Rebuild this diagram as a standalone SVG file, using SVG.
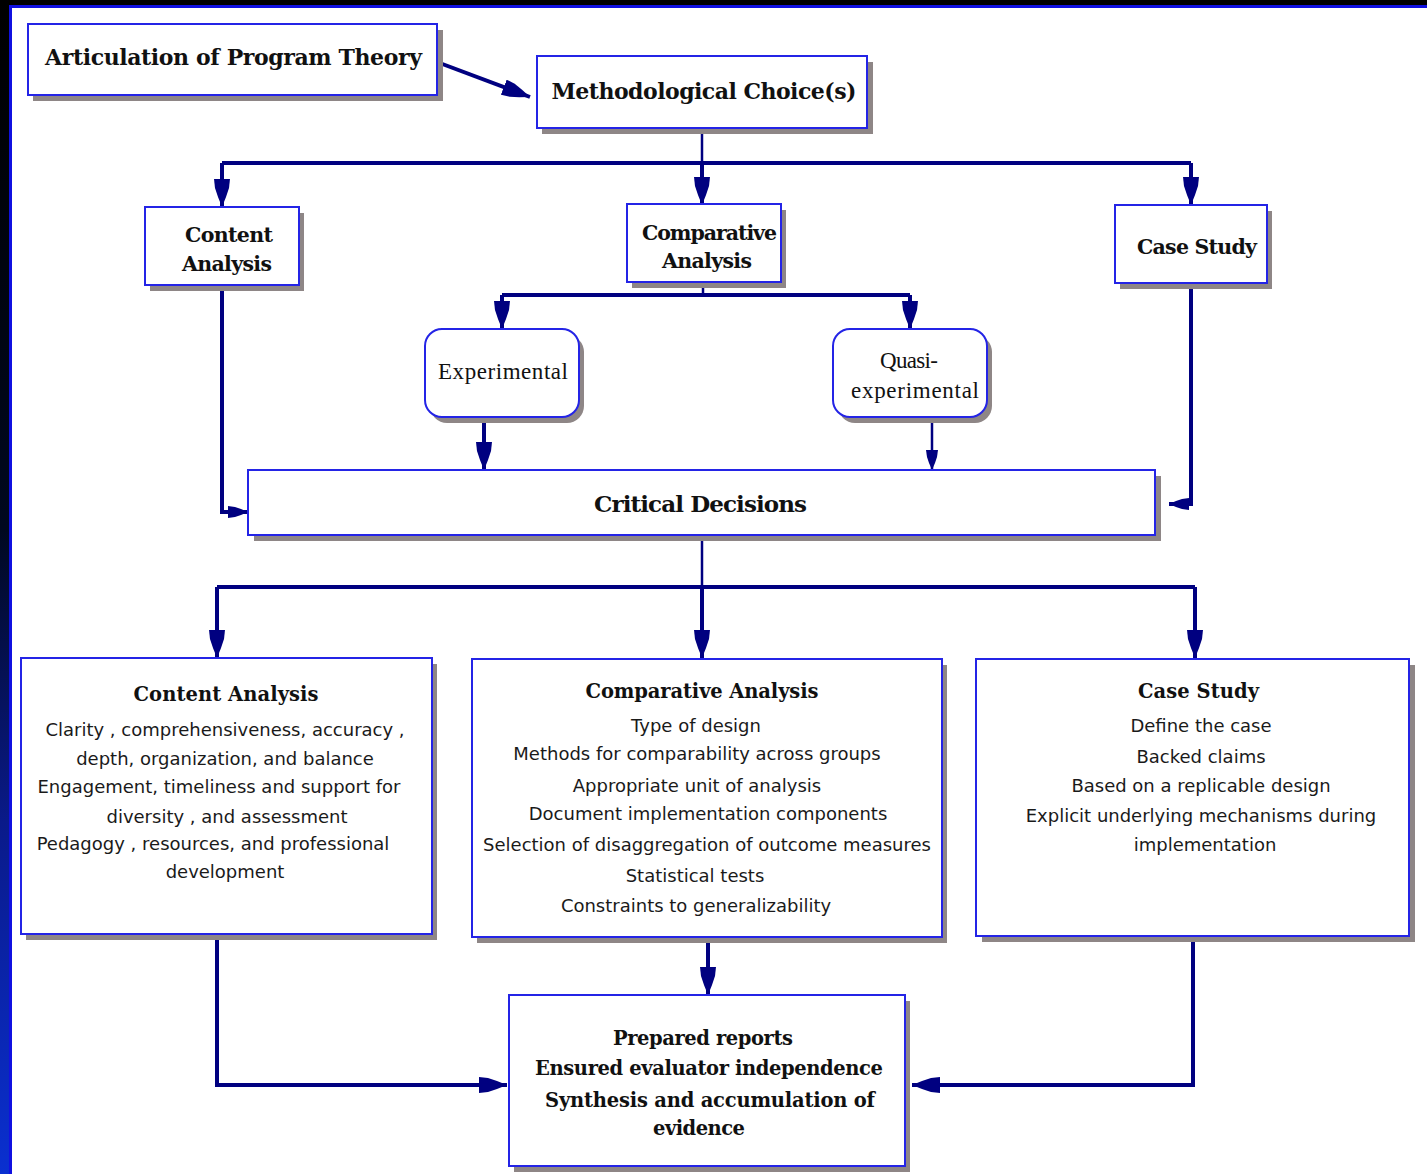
<svg xmlns="http://www.w3.org/2000/svg" width="1427" height="1174" viewBox="0 0 1427 1174">
<style>
.sh{fill:#8e8686;stroke:none}
.bx{fill:#ffffff;stroke:#2424e6;stroke-width:2}
.tt{font-family:"DejaVu Serif","Liberation Serif",serif;font-weight:bold;font-size:22px;fill:#111;text-anchor:middle}
.ts{font-size:20.5px}
.lt{font-family:"DejaVu Serif","Liberation Serif",serif;font-weight:bold;font-size:19.5px;fill:#111;text-anchor:middle}
.sr{font-family:"Liberation Serif","DejaVu Serif",serif;font-size:23px;fill:#111;text-anchor:middle}
.bd{font-family:"DejaVu Sans","Liberation Sans",sans-serif;font-size:18px;fill:#1a1a1a;text-anchor:middle}
.ck{fill:none;stroke:#000080;stroke-width:4;stroke-linejoin:miter}
.cn{fill:none;stroke:#000080;stroke-width:2.5}
</style>
<defs>
<linearGradient id="lg" x1="0" y1="0" x2="0" y2="1">
<stop offset="0" stop-color="#000000"/>
<stop offset="0.45" stop-color="#000820"/>
<stop offset="0.7" stop-color="#0a1a8a"/>
<stop offset="1" stop-color="#0a30d0"/>
</linearGradient>
<marker id="ab" markerUnits="userSpaceOnUse" viewBox="0 -9 28 18" markerWidth="28" markerHeight="18" refX="28" refY="0" orient="auto">
<path d="M0,-8 L9,-7 L18,-4 L28,0 L18,4 L9,7 L0,8 Z" fill="#000080"/>
</marker>
<marker id="as" markerUnits="userSpaceOnUse" viewBox="0 -7 20 14" markerWidth="20" markerHeight="14" refX="20" refY="0" orient="auto">
<path d="M0,-6 L7,-5 L13,-3 L20,0 L13,3 L7,5 L0,6 Z" fill="#000080"/>
</marker>
</defs>

<g id="frame">
<rect x="0" y="0" width="1427" height="1174" fill="#000"/>
<rect x="0" y="0" width="9" height="1174" fill="url(#lg)"/>
<rect x="9" y="5" width="1418" height="1169" fill="#1010e0"/>
<rect x="12" y="8" width="1415" height="1166" fill="#ffffff"/>
</g>

<g id="connectors">
<path class="ck" d="M437,62 L530,97" marker-end="url(#ab)"/>
<path class="cn" d="M702,128 L702,163"/>
<path class="ck" d="M222,163 L1191,163"/>
<path class="ck" d="M222,163 L222,207" marker-end="url(#ab)"/>
<path class="ck" d="M702,163 L702,205" marker-end="url(#ab)"/>
<path class="ck" d="M1191,163 L1191,205" marker-end="url(#ab)"/>
<path class="cn" d="M703,283 L703,295"/>
<path class="ck" d="M502,295 L910,295"/>
<path class="ck" d="M502,295 L502,329" marker-end="url(#ab)"/>
<path class="ck" d="M910,295 L910,329" marker-end="url(#ab)"/>
<path class="ck" d="M484,418 L484,470" marker-end="url(#ab)"/>
<path class="cn" d="M932,418 L932,470" marker-end="url(#as)"/>
<path class="ck" d="M222,286 L222,512 L248,512" marker-end="url(#as)"/>
<path class="ck" d="M1191,284 L1191,504 L1169,504" marker-end="url(#as)"/>
<path class="cn" d="M702,536 L702,587"/>
<path class="ck" d="M217,587 L1195,587"/>
<path class="ck" d="M217,587 L217,658" marker-end="url(#ab)"/>
<path class="ck" d="M702,587 L702,658" marker-end="url(#ab)"/>
<path class="ck" d="M1195,587 L1195,658" marker-end="url(#ab)"/>
<path class="ck" d="M217,935 L217,1085 L507,1085" marker-end="url(#ab)"/>
<path class="ck" d="M708,943 L708,995" marker-end="url(#ab)"/>
<path class="ck" d="M1193,942 L1193,1085 L912,1085" marker-end="url(#ab)"/>
</g>

<g id="n-articulation">
<rect class="sh" x="33" y="30" width="410" height="71"/>
<rect class="bx" x="28" y="24" width="409" height="71"/>
<text class="tt" x="233.5" y="65" textLength="377">Articulation of Program Theory</text>
</g>

<g id="n-methodological">
<rect class="sh" x="542" y="62" width="331" height="72"/>
<rect class="bx" x="537" y="56" width="330" height="72"/>
<text class="tt" x="704" y="99" textLength="305">Methodological Choice(s)</text>
</g>

<g id="n-content-top">
<rect class="sh" x="150" y="213" width="154" height="78"/>
<rect class="bx" x="145" y="207" width="154" height="78"/>
<text class="tt ts" x="229" y="242" textLength="88">Content</text>
<text class="tt ts" x="227" y="271" textLength="90">Analysis</text>
</g>

<g id="n-comparative-top">
<rect class="sh" x="632" y="210" width="154" height="78"/>
<rect class="bx" x="627" y="204" width="154" height="78"/>
<text class="tt ts" x="709.5" y="240" textLength="135">Comparative</text>
<text class="tt ts" x="707" y="268" textLength="90">Analysis</text>
</g>

<g id="n-casestudy-top">
<rect class="sh" x="1120" y="211" width="152" height="78"/>
<rect class="bx" x="1115" y="205" width="152" height="78"/>
<text class="tt ts" x="1197" y="254" textLength="120">Case Study</text>
</g>

<g id="n-experimental">
<rect class="sh" x="430" y="335" width="154" height="88" rx="17"/>
<rect class="bx" x="425" y="329" width="154" height="88" rx="17"/>
<text class="sr" x="503" y="379" textLength="130">Experimental</text>
</g>

<g id="n-quasi">
<rect class="sh" x="838" y="335" width="154" height="88" rx="17"/>
<rect class="bx" x="833" y="329" width="154" height="88" rx="17"/>
<text class="sr" x="909" y="368" textLength="58">Quasi-</text>
<text class="sr" x="915" y="398" textLength="128">experimental</text>
</g>

<g id="n-critical">
<rect class="sh" x="254" y="476" width="907" height="65"/>
<rect class="bx" x="248" y="470" width="907" height="65"/>
<text class="tt" x="700.5" y="512" textLength="213" style="font-size:23px">Critical Decisions</text>
</g>

<g id="n-content-detail">
<rect class="sh" x="26" y="664" width="411" height="276"/>
<rect class="bx" x="21" y="658" width="411" height="276"/>
<text class="lt" x="226" y="701" textLength="185">Content Analysis</text>
<text class="bd" x="225" y="736">Clarity , comprehensiveness, accuracy ,</text>
<text class="bd" x="225" y="765">depth, organization, and balance</text>
<text class="bd" x="219" y="793">Engagement, timeliness and support for</text>
<text class="bd" x="227" y="823">diversity , and assessment</text>
<text class="bd" x="213" y="850">Pedagogy , resources, and professional</text>
<text class="bd" x="225" y="878">development</text>
</g>

<g id="n-comparative-detail">
<rect class="sh" x="477" y="665" width="470" height="278"/>
<rect class="bx" x="472" y="659" width="470" height="278"/>
<text class="lt" x="702" y="698" textLength="233">Comparative Analysis</text>
<text class="bd" x="696" y="732">Type of design</text>
<text class="bd" x="697" y="760">Methods for comparability across groups</text>
<text class="bd" x="697" y="792">Appropriate unit of analysis</text>
<text class="bd" x="708" y="820">Document implementation components</text>
<text class="bd" x="707" y="851">Selection of disaggregation of outcome measures</text>
<text class="bd" x="695" y="882">Statistical tests</text>
<text class="bd" x="696" y="912">Constraints to generalizability</text>
</g>

<g id="n-casestudy-detail">
<rect class="sh" x="982" y="665" width="433" height="277"/>
<rect class="bx" x="976" y="659" width="433" height="277"/>
<text class="lt" x="1198.5" y="698" textLength="121">Case Study</text>
<text class="bd" x="1201" y="732">Define the case</text>
<text class="bd" x="1201" y="763">Backed claims</text>
<text class="bd" x="1201" y="792">Based on a replicable design</text>
<text class="bd" x="1201" y="822">Explicit underlying mechanisms during</text>
<text class="bd" x="1205" y="851">implementation</text>
</g>

<g id="n-prepared">
<rect class="sh" x="514" y="1001" width="396" height="171"/>
<rect class="bx" x="509" y="995" width="396" height="171"/>
<text class="lt" x="703" y="1045" textLength="180">Prepared reports</text>
<text class="lt" x="709" y="1075" textLength="348">Ensured evaluator independence</text>
<text class="lt" x="710" y="1107" textLength="330">Synthesis and accumulation of</text>
<text class="lt" x="699" y="1135" textLength="92">evidence</text>
</g>
</svg>
